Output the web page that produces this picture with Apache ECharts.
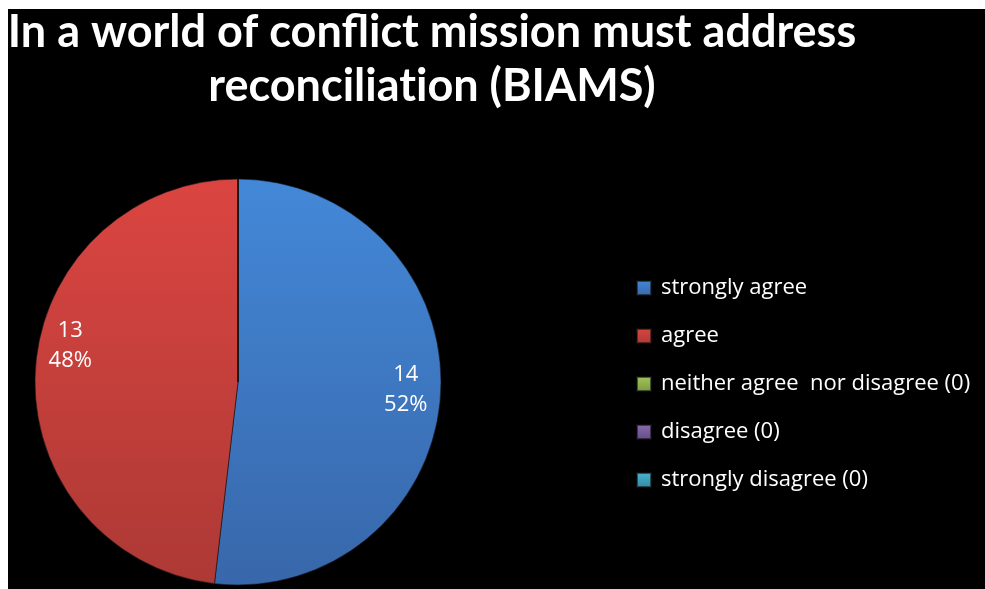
<!DOCTYPE html>
<html>
<head>
<meta charset="utf-8">
<script src="https://cdn.jsdelivr.net/npm/echarts@6/dist/echarts.min.js"></script>
<style>
html,body{margin:0;padding:0;background:#fff;}
#chart{position:absolute;left:8px;top:9px;width:977px;height:580px;}
</style>
</head>
<body>
<div id="chart"></div>
<script>
var titleText = 'In a world of conflict mission must address\nreconciliat\u200Cion (BIAMS)';
var categories = ['strongly agree', 'agree', 'neither agree  nor disagree (0)', 'disagree (0)', 'strongly disagree (0)'];
var values = [14, 13, 0, 0, 0];
var colorTop = ['#4388d8', '#db4541', '#a2c55a', '#8a6bb0', '#4bb4cf'];
var colorBottom = ['#3867aa', '#ad3935', '#7d9a40', '#634d86', '#3389a0'];
var labelOffsets = [[0, 0], [0, -28], [0, 0], [0, 0], [0, 0]];

var chart = echarts.init(document.getElementById('chart'));
var data = categories.map(function (name, i) {
  return {
    name: name,
    value: values[i],
    itemStyle: {
      color: new echarts.graphic.LinearGradient(0, 0, 0, 1, [
        {offset: 0, color: colorTop[i]},
        {offset: 1, color: colorBottom[i]}
      ])
    },
    label: {offset: labelOffsets[i]}
  };
});

chart.setOption({
  backgroundColor: '#000',
  animation: false,
  title: {
    text: titleText,
    left: 424,
    top: -4,
    padding: 0,
    textAlign: 'center',
    textStyle: {
      color: '#fff',
      fontFamily: 'Lato',
      fontWeight: 'bold',
      fontSize: 45,
      lineHeight: 54
    }
  },
  legend: {
    orient: 'vertical',
    left: 623,
    top: 263,
    itemWidth: 14,
    itemHeight: 14,
    itemGap: 26,
    icon: 'rect',
    textStyle: {
      color: '#fff',
      fontFamily: 'Open Sans',
      fontSize: 22,
      lineHeight: 22,
      padding: [0, 0, 0, 5]
    },
    data: categories
  },
  series: [{
    type: 'pie',
    center: [230, 373],
    radius: [0, 203],
    startAngle: 90,
    clockwise: true,
    avoidLabelOverlap: false,
    minShowLabelAngle: 0.5,
    percentPrecision: 0,
    itemStyle: {
      borderColor: 'rgba(20,20,20,0.6)',
      borderWidth: 1
    },
    label: {
      show: true,
      position: 'outside',
      formatter: '{a|{c}}\n{a|{d}%}',
      color: '#fff',
      fontFamily: 'Open Sans',
      fontSize: 22,
      lineHeight: 30,
      distanceToLabelLine: 0,
      rich: {
        a: {
          width: 54,
          align: 'center',
          color: '#fff',
          fontFamily: 'Open Sans',
          fontSize: 22,
          lineHeight: 30
        }
      }
    },
    labelLine: {
      show: false,
      length: -62,
      length2: 0
    },
    emphasis: {disabled: true},
    data: data
  }]
});
</script>
</body>
</html>
